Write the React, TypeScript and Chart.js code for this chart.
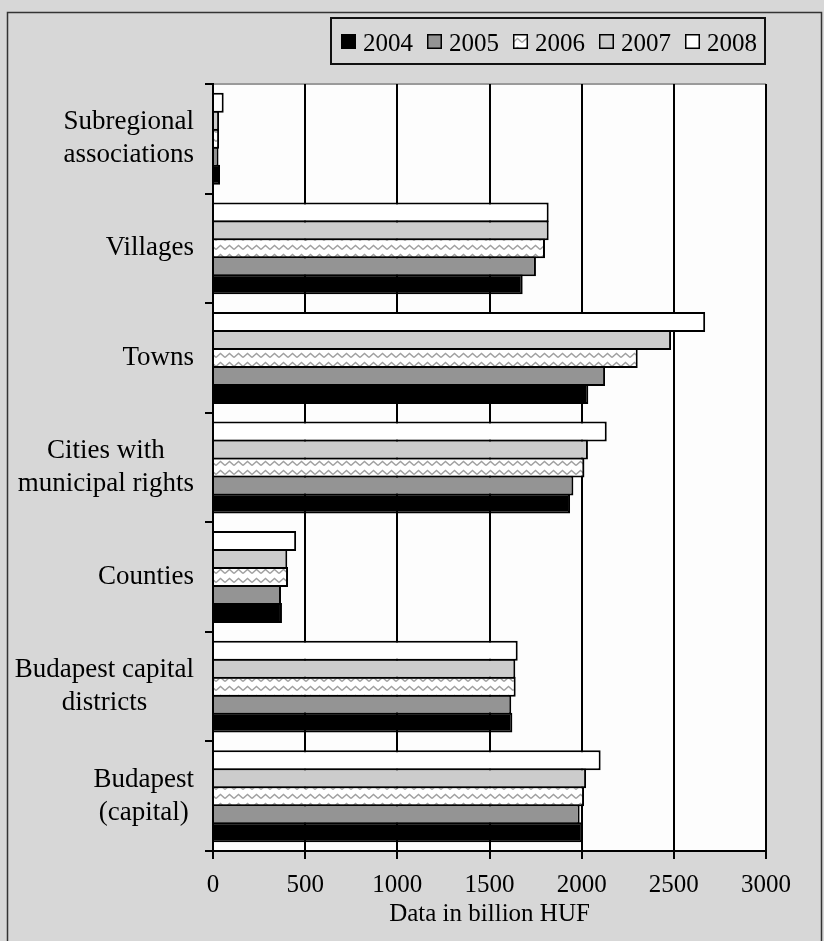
import React, { useEffect, useRef } from "react";
import { Chart, registerables } from "chart.js";

Chart.register(...registerables);

const categories: string[][] = [
  ["Subregional", "associations"],
  ["Villages"],
  ["Towns"],
  ["Cities with", "municipal rights"],
  ["Counties"],
  ["Budapest capital", "districts"],
  ["Budapest", "(capital)"],
];
const years = ["2004", "2005", "2006", "2007", "2008"];
const v2004 = [38, 1680, 2036, 1937, 374, 1624, 2003];
const v2005 = [30, 1752, 2127, 1955, 369, 1618, 1989];
const v2006 = [33, 1801, 2304, 2015, 407, 1642, 2013];
const v2007 = [33, 1821, 2485, 2034, 403, 1640, 2024];
const v2008 = [58, 1821, 2670, 2136, 451, 1653, 2103];
const xTicks = [0, 500, 1000, 1500, 2000, 2500, 3000];
const xTitle = "Data in billion HUF";

const FONT = "'Liberation Serif', 'Times New Roman', serif";

export default function App() {
  const ref = useRef<HTMLCanvasElement | null>(null);

  useEffect(() => {
    const canvas = ref.current!;
    const ctx = canvas.getContext("2d")!;

    const pc = document.createElement("canvas");
    pc.width = 9;
    pc.height = 9;
    const p = pc.getContext("2d")!;
    p.fillStyle = "#ffffff";
    p.fillRect(0, 0, 9, 9);
    p.strokeStyle = "#a0a0a0";
    p.lineWidth = 1.4;
    p.beginPath();
    p.moveTo(0, 6.5);
    p.lineTo(4.5, 2.5);
    p.lineTo(9, 6.5);
    p.stroke();
    const zig = ctx.createPattern(pc, "repeat")!;

    const fills: Record<string, any> = {
      "2004": "#000000",
      "2005": "#949494",
      "2006": zig,
      "2007": "#cccccc",
      "2008": "#ffffff",
    };
    const values: Record<string, number[]> = {
      "2004": v2004,
      "2005": v2005,
      "2006": v2006,
      "2007": v2007,
      "2008": v2008,
    };

    const order = [...years].reverse();

    const decor = {
      id: "decor",
      beforeDraw(chart: any) {
        const c = chart.ctx;
        const a = chart.chartArea;
        c.save();
        c.fillStyle = "#d7d7d7";
        c.fillRect(0, 0, chart.width, chart.height);
        c.fillStyle = "#fdfdfd";
        c.fillRect(a.left, a.top, a.right - a.left, a.bottom - a.top);
        c.strokeStyle = "#9a9a9a";
        c.lineWidth = 2;
        c.beginPath();
        c.moveTo(a.left, a.top);
        c.lineTo(a.right, a.top);
        c.stroke();
        c.restore();
      },
      afterDraw(chart: any) {
        const c = chart.ctx;
        c.save();
        // outer frame
        c.strokeStyle = "#333333";
        c.lineWidth = 1.5;
        c.strokeRect(7.5, 12.5, 814, 940);

        // category labels
        const ys = chart.scales.y;
        c.fillStyle = "#000";
        c.font = `27px ${FONT}`;
        c.textAlign = "center";
        c.textBaseline = "middle";
        const right = 194;
        const lh = 33;
        categories.forEach((lines, i) => {
          const y = ys.getPixelForValue(i);
          const w = Math.max(...lines.map((l) => c.measureText(l).width));
          const cx = right - w / 2;
          lines.forEach((l, j) => {
            c.fillText(l, cx, y + (j - (lines.length - 1) / 2) * lh);
          });
        });

        // legend
        c.font = `25px ${FONT}`;
        c.textAlign = "left";
        c.textBaseline = "alphabetic";
        c.strokeStyle = "#111";
        c.lineWidth = 2;
        c.strokeRect(331, 18, 434, 46);
        let x = 341;
        years.forEach((yr) => {
          c.fillStyle = fills[yr];
          c.fillRect(x, 34, 15, 15);
          c.strokeStyle = "#000";
          c.lineWidth = 1.5;
          c.strokeRect(x + 0.75, 34.75, 13.5, 13.5);
          c.fillStyle = "#000";
          c.fillText(yr, x + 22, 51);
          x += 22 + c.measureText(yr).width + 14;
        });
        c.restore();
      },
    };

    const chart = new Chart(canvas, {
      type: "bar",
      data: {
        labels: categories.map((l) => l.join(" ")),
        datasets: order.map((yr) => ({
          label: yr,
          data: values[yr],
          backgroundColor: fills[yr],
          borderColor: "#000000",
          borderWidth: 2,
          borderSkipped: "start",
          inflateAmount: 0,
          categoryPercentage: 0.821,
          barPercentage: 1.11,
        })),
      },
      options: {
        indexAxis: "y",
        responsive: false,
        animation: false,
        devicePixelRatio: 1,
        layout: { padding: { left: 0, right: 58, top: 84, bottom: 0 } },
        plugins: {
          legend: { display: false },
          tooltip: { enabled: false },
        },
        scales: {
          x: {
            type: "linear",
            position: "bottom",
            min: 0,
            max: 3000,
            afterBuildTicks: (s: any) => {
              s.ticks = xTicks.map((v) => ({ value: v }));
            },
            afterFit: (s: any) => {
              s.height = 90;
            },
            ticks: {
              color: "#000",
              font: { family: FONT, size: 25 },
              padding: 11,
              maxRotation: 0,
              callback: (v: any) => String(v),
            },
            grid: {
              color: "#000",
              lineWidth: 2,
              tickLength: 8,
              drawTicks: true,
            },
            border: { color: "#000", width: 2 },
            title: {
              display: true,
              text: xTitle,
              color: "#000",
              font: { family: FONT, size: 25 },
              padding: { top: 0, bottom: 12 },
            },
          },
          y: {
            type: "category",
            offset: true,
            afterFit: (s: any) => {
              s.width = 213;
            },
            ticks: { display: false },
            grid: {
              display: true,
              offset: true,
              drawOnChartArea: false,
              drawTicks: true,
              tickLength: 8,
              color: "#000",
              lineWidth: 2,
            },
            border: { color: "#000", width: 2 },
          },
        },
      } as any,
      plugins: [decor],
    });

    return () => chart.destroy();
  }, []);

  return (
    <div style={{ position: "absolute", left: 0, top: 0, width: 824, height: 941 }}>
      <canvas ref={ref} width={824} height={941} style={{ display: "block" }} />
    </div>
  );
}
